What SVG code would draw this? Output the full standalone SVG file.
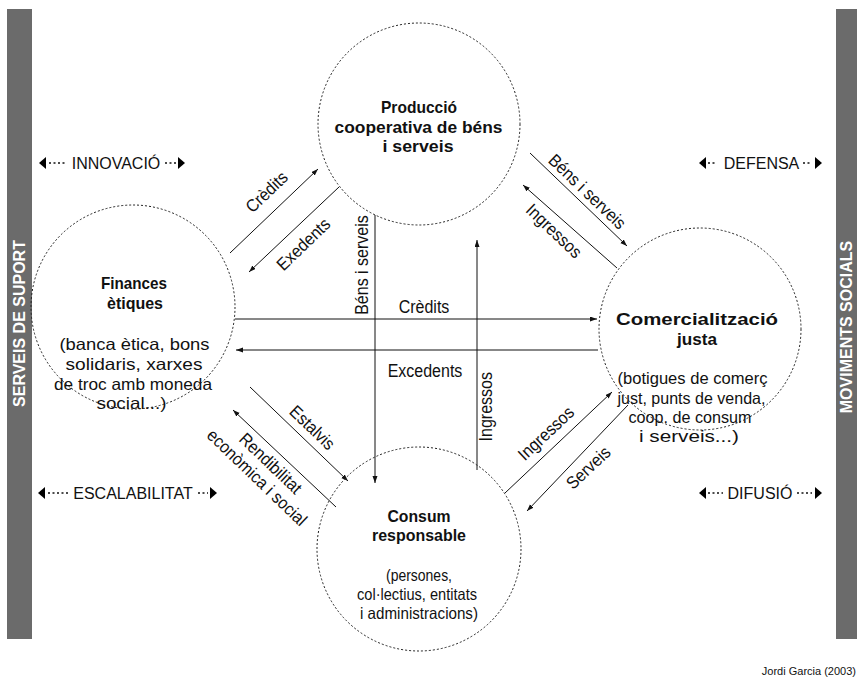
<svg xmlns="http://www.w3.org/2000/svg" width="857" height="677" viewBox="0 0 857 677">
<style>
text{font-family:"Liberation Sans",Arial,sans-serif;fill:#111}
.b{font-weight:bold;font-size:17px}
.r{font-size:16.5px}
.l{font-size:17.5px}
.c{font-size:16px}
.bar{fill:#6b6b6b}
.bt{font-weight:bold;font-size:16px;fill:#fff}
.node{fill:none;stroke:#222;stroke-width:1;stroke-dasharray:2 2}
.ln{stroke:#111;stroke-width:1;fill:none;marker-end:url(#ah)}
.dot{stroke:#111;stroke-width:1.3;stroke-dasharray:2 2.5}
.tri{fill:#000}
</style>
<defs>
<marker id="ah" markerUnits="userSpaceOnUse" markerWidth="8" markerHeight="6" refX="7" refY="2.5" orient="auto">
<path d="M0,0 L7,2.5 L0,5 z" fill="#111"/>
</marker>
</defs>
<rect width="857" height="677" fill="#fff"/>

<g id="bar-left">
<rect class="bar" x="7" y="9" width="25" height="630"/>
<text class="bt" transform="translate(25,323.5) rotate(-90)" text-anchor="middle">SERVEIS DE SUPORT</text>
</g>
<g id="bar-right">
<rect class="bar" x="836" y="9" width="21" height="630"/>
<text class="bt" transform="translate(852,327) rotate(-90)" text-anchor="middle">MOVIMENTS SOCIALS</text>
</g>

<g id="tag-innovacio">
<path class="tri" d="M39,163 L46,157 L46,169 z"/>
<line class="dot" x1="49" y1="163" x2="67" y2="163"/>
<text class="c" x="116" y="169" text-anchor="middle">INNOVACIÓ</text>
<line class="dot" x1="165" y1="163" x2="176" y2="163"/>
<path class="tri" d="M185,163 L178,157 L178,169 z"/>
</g>
<g id="tag-defensa">
<path class="tri" d="M699,163 L706,157 L706,169 z"/>
<line class="dot" x1="708" y1="163" x2="715" y2="163"/>
<text class="c" x="761.5" y="169" text-anchor="middle">DEFENSA</text>
<line class="dot" x1="803" y1="163" x2="812" y2="163"/>
<path class="tri" d="M822,163 L815,157 L815,169 z"/>
</g>
<g id="tag-escalabilitat">
<path class="tri" d="M38,493 L45,487 L45,499 z"/>
<line class="dot" x1="48" y1="493" x2="68" y2="493"/>
<text class="c" x="133" y="499" text-anchor="middle">ESCALABILITAT</text>
<line class="dot" x1="198" y1="493" x2="208" y2="493"/>
<path class="tri" d="M217,493 L210,487 L210,499 z"/>
</g>
<g id="tag-difusio">
<path class="tri" d="M699,493 L706,487 L706,499 z"/>
<line class="dot" x1="708" y1="493" x2="723" y2="493"/>
<text class="c" x="760" y="499" text-anchor="middle">DIFUSIÓ</text>
<line class="dot" x1="797" y1="493" x2="812" y2="493"/>
<path class="tri" d="M822,493 L815,487 L815,499 z"/>
</g>

<g id="connectors">
<path class="ln" d="M230,253 L318,169"/>
<path class="ln" d="M339,187 L249,272"/>
<path class="ln" d="M530,153 L627,246"/>
<path class="ln" d="M617,268 L523,185"/>
<path class="ln" d="M250,387 L348,481"/>
<path class="ln" d="M336,507 L233,410"/>
<path class="ln" d="M505,493 L612,392"/>
<path class="ln" d="M628,405 L527,511"/>
<path class="ln" d="M375,215 L375,483"/>
<path class="ln" d="M477,470 L477,240"/>
<path class="ln" d="M235,319 L597,319"/>
<path class="ln" d="M598,350 L236,350"/>
<text class="l" transform="translate(270.8,196.3) rotate(-43.7)" text-anchor="middle" textLength="50.7" lengthAdjust="spacingAndGlyphs">Crèdits</text>
<text class="l" transform="translate(307.5,248.6) rotate(-43.7)" text-anchor="middle" textLength="66.7" lengthAdjust="spacingAndGlyphs">Exedents</text>
<text class="l" transform="translate(583.2,195.9) rotate(43.8)" text-anchor="middle" textLength="99.6" lengthAdjust="spacingAndGlyphs">Béns i serveis</text>
<text class="l" transform="translate(549.9,235.3) rotate(43.8)" text-anchor="middle" textLength="69.4" lengthAdjust="spacingAndGlyphs">Ingressos</text>
<text class="l" transform="translate(308.2,431.9) rotate(43.8)" text-anchor="middle" textLength="55.1" lengthAdjust="spacingAndGlyphs">Estalvis</text>
<text class="l" transform="translate(266.5,467.6) rotate(43.8)" text-anchor="middle" textLength="79.1" lengthAdjust="spacingAndGlyphs">Rendibilitat</text>
<text class="l" transform="translate(252.9,481.8) rotate(43.8)" text-anchor="middle" textLength="130.7" lengthAdjust="spacingAndGlyphs">econòmica i social</text>
<text class="l" transform="translate(550.1,437.6) rotate(-43.3)" text-anchor="middle" textLength="69.4" lengthAdjust="spacingAndGlyphs">Ingressos</text>
<text class="l" transform="translate(592.4,472) rotate(-43.3)" text-anchor="middle" textLength="53.3" lengthAdjust="spacingAndGlyphs">Serveis</text>
<text class="l" transform="translate(368,265) rotate(-90)" text-anchor="middle" textLength="99.6" lengthAdjust="spacingAndGlyphs">Béns i serveis</text>
<text class="l" transform="translate(491.7,406.7) rotate(-90)" text-anchor="middle" textLength="69.4" lengthAdjust="spacingAndGlyphs">Ingressos</text>
<text class="l" x="424" y="313" text-anchor="middle" textLength="50.7" lengthAdjust="spacingAndGlyphs">Crèdits</text>
<text class="l" x="425" y="377" text-anchor="middle" textLength="74.7" lengthAdjust="spacingAndGlyphs">Excedents</text>
</g>

<g id="node-produccio">
<circle class="node" cx="419" cy="124" r="101"/>
<text class="b" x="419" y="113" text-anchor="middle" textLength="76" lengthAdjust="spacingAndGlyphs">Producció</text>
<text class="b" x="418.5" y="133" text-anchor="middle" textLength="168" lengthAdjust="spacingAndGlyphs">cooperativa de béns</text>
<text class="b" x="418" y="152" text-anchor="middle" textLength="71" lengthAdjust="spacingAndGlyphs">i serveis</text>
</g>
<g id="node-finances">
<circle class="node" cx="133" cy="307" r="102"/>
<text class="b" x="134" y="289" text-anchor="middle" textLength="66" lengthAdjust="spacingAndGlyphs">Finances</text>
<text class="b" x="135" y="309" text-anchor="middle" textLength="56" lengthAdjust="spacingAndGlyphs">ètiques</text>
<text class="r" x="134.5" y="350" text-anchor="middle" textLength="150" lengthAdjust="spacingAndGlyphs">(banca ètica, bons</text>
<text class="r" x="134" y="370" text-anchor="middle" textLength="137" lengthAdjust="spacingAndGlyphs">solidaris, xarxes</text>
<text class="r" x="133" y="390" text-anchor="middle" textLength="158" lengthAdjust="spacingAndGlyphs">de troc amb moneda</text>
<text class="r" x="131.5" y="409" text-anchor="middle" textLength="70" lengthAdjust="spacingAndGlyphs">social...)</text>
</g>
<g id="node-comercialitzacio">
<circle class="node" cx="700" cy="329" r="101"/>
<text class="b" x="697" y="325" text-anchor="middle" textLength="162" lengthAdjust="spacingAndGlyphs">Comercialització</text>
<text class="b" x="697" y="345" text-anchor="middle" textLength="40" lengthAdjust="spacingAndGlyphs">justa</text>
<text class="r" x="692.5" y="384" text-anchor="middle" textLength="150" lengthAdjust="spacingAndGlyphs">(botigues de comerç</text>
<text class="r" x="691.5" y="404" text-anchor="middle" textLength="148" lengthAdjust="spacingAndGlyphs">just, punts de venda,</text>
<text class="r" x="690" y="423" text-anchor="middle" textLength="123" lengthAdjust="spacingAndGlyphs">coop. de consum</text>
<text class="r" x="689" y="442" text-anchor="middle" textLength="100" lengthAdjust="spacingAndGlyphs">i serveis...)</text>
</g>
<g id="node-consum">
<circle class="node" cx="419" cy="549" r="102"/>
<text class="b" x="419" y="522" text-anchor="middle" textLength="63" lengthAdjust="spacingAndGlyphs">Consum</text>
<text class="b" x="419" y="541" text-anchor="middle" textLength="94" lengthAdjust="spacingAndGlyphs">responsable</text>
<text class="r" x="419" y="581" text-anchor="middle" textLength="66" lengthAdjust="spacingAndGlyphs">(persones,</text>
<text class="r" x="417" y="600" text-anchor="middle" textLength="120" lengthAdjust="spacingAndGlyphs">col·lectius, entitats</text>
<text class="r" x="419" y="619" text-anchor="middle" textLength="118" lengthAdjust="spacingAndGlyphs">i administracions)</text>
</g>

<text x="856" y="675" font-size="11" text-anchor="end">Jordi Garcia (2003)</text>
</svg>
